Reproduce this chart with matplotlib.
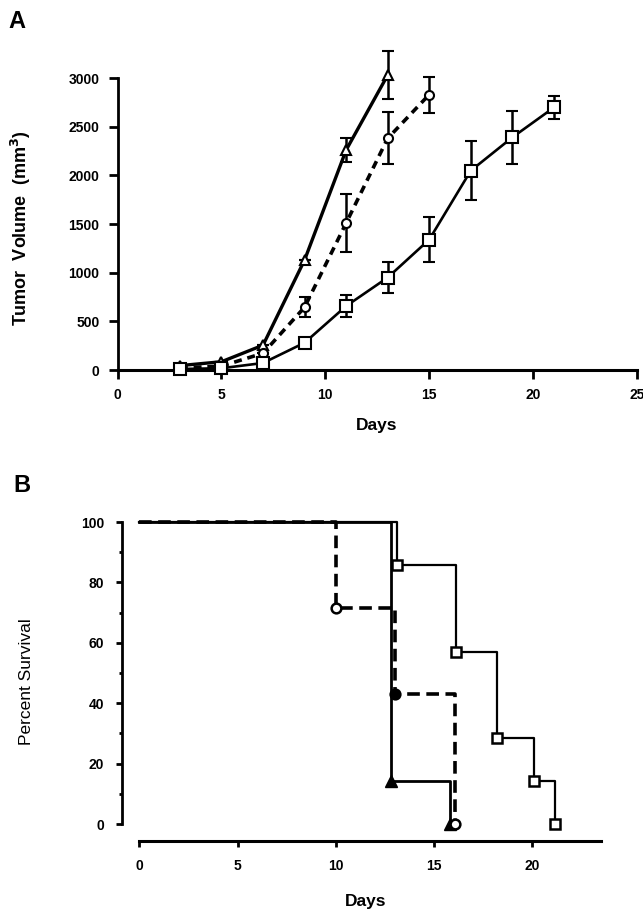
import matplotlib
matplotlib.use("Agg")
import matplotlib.pyplot as plt
import numpy as np

plt.rcParams['font.family'] = ['Liberation Sans', 'DejaVu Sans']

# panel A: tumor volume
days_tri = [3, 5, 7, 9, 11, 13]
vol_tri = [45, 85, 255, 1130, 2260, 3030]
err_tri = [0, 0, 0, 0, 120, 245]

days_circ = [3, 5, 7, 9, 11, 13, 15]
vol_circ = [20, 40, 172, 645, 1510, 2380, 2830]
err_circ = [0, 0, 0, 105, 295, 268, 185]

days_sq = [3, 5, 7, 9, 11, 13, 15, 17, 19, 21]
vol_sq = [10, 18, 72, 280, 657, 950, 1340, 2048, 2390, 2697]
err_sq = [0, 0, 0, 0, 112, 162, 228, 300, 272, 115]

a_xticks = [0, 5, 10, 15, 20, 25]
a_yticks = [0, 500, 1000, 1500, 2000, 2500, 3000]

# panel B: survival (step times)
surv_t_tri = [0, 12.8, 15.8]
surv_tri = [100, 14.3, 0]
surv_t_circ = [0, 10, 13, 16.05]
surv_circ = [100, 71.4, 42.9, 0]
surv_t_sq = [0, 13.1, 16.1, 18.2, 20.1, 21.15]
surv_sq = [100, 85.7, 57.1, 28.6, 14.3, 0]

b_xticks = [0, 5, 10, 15, 20]
b_yticks = [0, 20, 40, 60, 80, 100]

W, H = 643, 913
fig = plt.figure(figsize=(W / 100, H / 100), dpi=100)


def fx(px):
    return px / W


def fy(py):
    return 1 - py / H


tick_font = dict(fontsize=10, fontweight='bold')

# ---------------- panel A ----------------
ax = fig.add_axes([fx(117.6), fy(370), fx(637) - fx(117.6), fy(78) - fy(370)])
ax.errorbar(days_tri, vol_tri, yerr=err_tri, color='black', lw=2.4, capsize=4.5,
            capthick=1.8, elinewidth=1.8, marker='^', ms=7.5, mfc='white', mec='black',
            mew=1.5, clip_on=False, zorder=3)
ax.errorbar(days_circ, vol_circ, yerr=err_circ, color='black', lw=2.6, ls=(0, (2.2, 1.6)),
            capsize=4.5, capthick=1.8, elinewidth=1.8, marker='o', ms=6.5, mfc='white',
            mec='black', mew=1.5, clip_on=False, zorder=3)
ax.errorbar(days_sq, vol_sq, yerr=err_sq, color='black', lw=1.9, capsize=4.5,
            capthick=1.8, elinewidth=1.8, marker='s', ms=8.5, mfc='white', mec='black',
            mew=1.5, clip_on=False, zorder=3)
ax.set_xlim(0, 25)
ax.set_ylim(0, 3000)
ax.set_xticks(a_xticks)
ax.set_yticks(a_yticks)
ax.set_xticklabels([str(v) for v in a_xticks], **tick_font)
ax.set_yticklabels([str(v) for v in a_yticks], **tick_font)
for s in ['top', 'right']:
    ax.spines[s].set_visible(False)
ax.spines['left'].set_linewidth(2.0)
ax.spines['bottom'].set_linewidth(2.2)
ax.tick_params(width=2, length=6.5, pad=6.5)
fig.text(fx(377), fy(418), 'Days', fontsize=12.5, fontweight='bold', ha='center', va='top')
fig.text(fx(21), fy(228), 'Tumor  Volume  (mm$^{\\mathbf{3}}$)', fontsize=13, fontweight='bold',
         rotation=90, ha='center', va='center')
fig.text(fx(8), fy(22), 'A', fontsize=17, fontweight='heavy', va='center')

# ---------------- panel B ----------------
bx = fig.add_axes([fx(122), fy(841), fx(601) - fx(122), fy(519) - fy(841)])
bx.step(surv_t_sq, surv_sq, where='post', color='black', lw=1.6, zorder=2)
bx.plot(surv_t_sq[1:], surv_sq[1:], ls='none', marker='s', ms=7.5, mfc='white',
        mec='black', mew=1.8, clip_on=False, zorder=4)
bx.step(surv_t_tri, surv_tri, where='post', color='black', lw=2.0, zorder=2)
bx.plot(surv_t_tri[1:], surv_tri[1:], ls='none', marker='^', ms=8, mfc='black',
        mec='black', clip_on=False, zorder=4)
bx.step(surv_t_circ, surv_circ, where='post', color='black', lw=2.6,
        ls=(0, (3.5, 1.8)), zorder=3)
circ_face = ['white', 'black', 'white']
for t, v, fc in zip(surv_t_circ[1:], surv_circ[1:], circ_face):
    bx.plot([t], [v], ls='none', marker='o', ms=7, mfc=fc, mec='black', mew=1.8,
            clip_on=False, zorder=4)
bx.set_xlim(-0.88, 23.5)
bx.set_ylim(-5.6, 101)
bx.spines['left'].set_bounds(0, 100)
bx.spines['bottom'].set_bounds(0, 23.5)
for s in ['top', 'right']:
    bx.spines[s].set_visible(False)
bx.spines['left'].set_linewidth(2.0)
bx.spines['bottom'].set_linewidth(2.2)
bx.set_xticks(b_xticks)
bx.set_yticks(b_yticks)
bx.set_yticks([10, 30, 50, 70, 90], minor=True)
bx.set_xticklabels([str(v) for v in b_xticks], **tick_font)
bx.set_yticklabels([str(v) for v in b_yticks], **tick_font)
bx.tick_params(width=2, length=4.5, pad=8.5)
bx.tick_params(axis='y', which='minor', width=2, length=2)
fig.text(fx(366), fy(894), 'Days', fontsize=12.5, fontweight='bold', ha='center', va='top')
fig.text(fx(27), fy(682), 'Percent Survival', fontsize=12.5, rotation=90,
         ha='center', va='center')
fig.text(fx(13), fy(485), 'B', fontsize=17, fontweight='heavy', va='center')

fig.savefig('out.png', dpi=100)
